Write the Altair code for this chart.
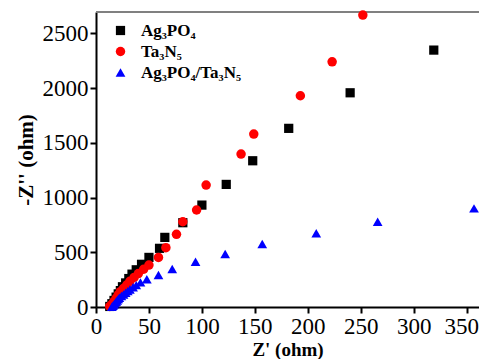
import altair as alt
import pandas as pd

# Data
ag_x = [13, 15, 17, 19, 21, 23, 25, 28, 31, 34, 38, 43, 50, 60, 65, 82, 100, 123, 148, 182, 240, 319]
ag_y = [5, 30, 60, 90, 120, 150, 185, 220, 260, 300, 340, 390, 453, 536, 636, 770, 931, 1120, 1336, 1632, 1957, 2347]

ta_x = [13, 15, 17, 19, 21, 23, 26, 29, 32, 36, 40, 45, 50, 59, 66, 76, 82, 95, 104, 137, 149, 193, 223, 252]
ta_y = [5, 25, 50, 80, 110, 140, 170, 200, 235, 270, 305, 345, 383, 453, 542, 664, 779, 886, 1114, 1397, 1580, 1930, 2240, 2667]

co_x = [15, 16, 17, 18, 19, 20, 21, 22, 24, 26, 28, 30, 32, 35, 38, 42, 48, 59, 72, 94, 122, 157, 208, 266, 357]
co_y = [3, 12, 22, 35, 48, 60, 72, 85, 100, 115, 130, 145, 160, 180, 200, 225, 253, 292, 347, 414, 484, 575, 673, 779, 901]

series = ["Ag₃PO₄", "Ta₃N₅", "Ag₃PO₄/Ta₃N₅"]
colors = ["#000000", "#ff0000", "#0000ff"]
shapes = ["square", "circle", "triangle-up"]
sizes = [85, 95, 150]

x_ticks = [0, 50, 100, 150, 200, 250, 300, 350]
y_ticks = [0, 500, 1000, 1500, 2000, 2500]

rows = []
for name, xs, ys in zip(series, [ag_x, ta_x, co_x], [ag_y, ta_y, co_y]):
    for a, b in zip(xs, ys):
        rows.append({"series": name, "x": a, "y": b})
df = pd.DataFrame(rows)

W, H = 383, 295
FONT = "Liberation Serif"

axis_common = dict(grid=False, format="d", labelFont=FONT, labelFontSize=23,
                   titleFont=FONT, titleFontWeight="bold", labelColor="black", titleColor="black")

points = alt.Chart(df).mark_point(filled=True, opacity=1).encode(
    x=alt.X("x:Q", scale=alt.Scale(domain=[0, 361.7], nice=False, zero=False),
            axis=alt.Axis(values=x_ticks, title="Z' (ohm)", titleFontSize=19, titlePadding=2,
                          labelAlign=alt.condition("datum.value == 350", alt.value("right"), alt.value("center")),
                          labelOffset=alt.condition("datum.value == 350", alt.value(12), alt.value(0)),
                          **axis_common)),
    y=alt.Y("y:Q", scale=alt.Scale(domain=[0, 2695], nice=False, zero=False),
            axis=alt.Axis(values=y_ticks, title="-Z'' (ohm)", titleFontSize=21, titlePadding=6, **axis_common)),
    color=alt.Color("series:N", scale=alt.Scale(domain=series, range=colors),
                    legend=alt.Legend(orient="none", legendX=16, legendY=10, title=None,
                                      labelFont=FONT, labelFontWeight="bold", labelFontSize=17,
                                      symbolSize=80, rowPadding=3, labelOffset=12)),
    shape=alt.Shape("series:N", scale=alt.Scale(domain=series, range=shapes)),
    size=alt.Size("series:N", scale=alt.Scale(domain=series, range=sizes), legend=None),
)

top_line = alt.Chart(pd.DataFrame({"a": [0]})).mark_rule(color="#808080", strokeWidth=2).encode(
    x=alt.value(0), x2=alt.value(W + 8), y=alt.value(0)
)

chart = alt.layer(top_line, points).properties(
    width=W, height=H,
    autosize=alt.AutoSizeParams(type="none"),
    padding={"left": 88, "top": 4, "right": 0, "bottom": 52},
).configure_view(stroke=None).configure_axis(
    domainColor="black", domainWidth=2, tickColor="black", tickWidth=2, tickSize=6,
    labelPadding=2,
)

chart.save("out.html", embed_options={"renderer": "svg", "actions": False})
